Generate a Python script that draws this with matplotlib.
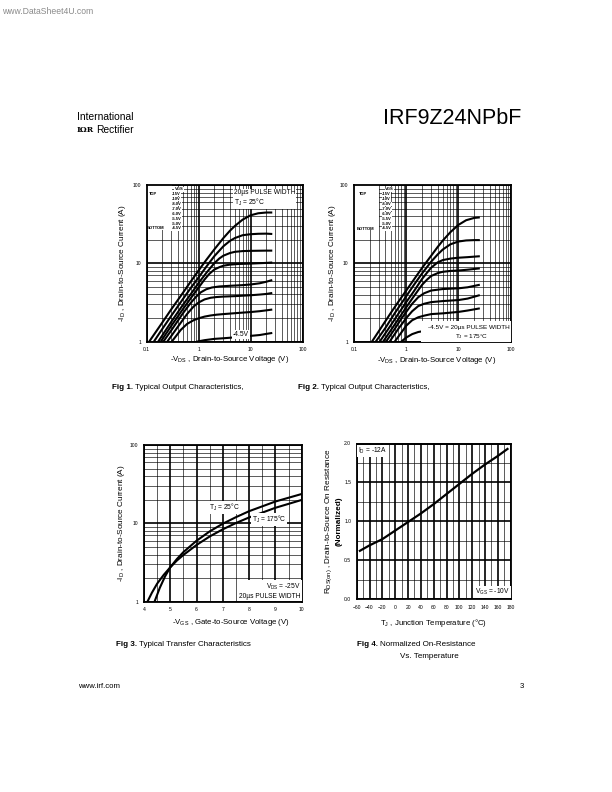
import matplotlib.pyplot as plt
from matplotlib.ticker import FixedLocator, NullFormatter, MultipleLocator
from matplotlib.patches import Rectangle

plt.rcParams['font.family'] = ['Liberation Sans', 'DejaVu Sans']
plt.rcParams['mathtext.fontset'] = 'custom'
plt.rcParams['mathtext.rm'] = 'Liberation Sans'
plt.rcParams['mathtext.default'] = 'regular'

W, H = 612.0, 792.0

# ---- data ----
vgs_labels = ['-15V', '-10V', '-8.0V', '-7.0V', '-6.0V', '-5.5V', '-5.0V', '-4.5V']

# Fig 1, Tj = 25C : -VDS (V) and -ID (A) per VGS curve
vds_25 = [
    [0.112, 0.2, 0.3, 0.5, 0.7, 1, 1.4, 2, 3, 4, 5, 7, 10, 14, 20, 25],
    [0.138, 0.2, 0.3, 0.5, 0.7, 1, 1.4, 2, 3, 4, 5, 7, 10, 14, 20, 25],
    [0.167, 0.3, 0.5, 0.7, 1, 1.4, 2, 2.5, 3, 4, 5, 7, 10, 20, 25],
    [0.187, 0.3, 0.5, 0.7, 1, 1.3, 1.6, 2, 2.5, 3, 4, 6, 10, 20, 25],
    [0.21, 0.3, 0.5, 0.7, 0.9, 1.1, 1.4, 1.8, 2.5, 4, 7, 10, 15, 20, 25],
    [0.25, 0.4, 0.6, 0.8, 1.0, 1.3, 1.7, 2.2, 3, 5, 10, 15, 20, 25],
    [0.305, 0.45, 0.6, 0.8, 1.0, 1.3, 1.7, 2.2, 3, 5, 10, 15, 20, 25],
    [0.95, 1.3, 2, 3, 5, 10, 15, 20, 25],
]
id_25 = [
    [1, 1.75, 2.6, 4.2, 5.8, 8.1, 11, 15, 21, 26, 30, 36, 41, 43.5, 44.5, 44.5],
    [1, 1.45, 2.15, 3.5, 4.8, 6.6, 9, 12.3, 16.5, 19.3, 21, 22.8, 23.5, 23.8, 23.9, 23.7],
    [1, 1.8, 2.95, 4.0, 5.6, 7.5, 10, 11.5, 12.5, 13.5, 14, 14.3, 14.4, 14.5, 14.5],
    [1, 1.6, 2.6, 3.55, 4.9, 6.2, 7.3, 8.3, 8.9, 9.3, 9.6, 9.8, 9.9, 10.1, 10.2],
    [1, 1.4, 2.3, 3.1, 3.75, 4.25, 4.65, 4.9, 5.05, 5.15, 5.25, 5.35, 5.55, 5.8, 6.05],
    [1, 1.55, 2.25, 2.8, 3.15, 3.45, 3.62, 3.7, 3.75, 3.8, 3.9, 3.98, 4.05, 4.15],
    [1, 1.4, 1.68, 1.87, 1.98, 2.08, 2.15, 2.2, 2.24, 2.3, 2.38, 2.44, 2.5, 2.55],
    [1.0, 1.04, 1.08, 1.1, 1.13, 1.18, 1.21, 1.25, 1.28],
]

# Fig 2, Tj = 175C
vds_175 = [
    [0.22, 0.35, 0.5, 0.7, 1, 1.4, 2, 3, 4, 5, 7, 10, 14, 20, 24.5],
    [0.26, 0.4, 0.6, 1, 1.4, 2, 3, 4, 5, 7, 10, 14, 20, 24.5],
    [0.31, 0.5, 0.7, 1, 1.4, 2, 2.5, 3, 4, 5, 7, 10, 15, 24.5],
    [0.36, 0.6, 0.8, 1, 1.4, 2, 2.5, 3, 4, 5, 7, 10, 15, 24.5],
    [0.41, 0.6, 0.8, 1, 1.3, 1.7, 2.2, 3, 5, 10, 15, 24.5],
    [0.48, 0.7, 1, 1.3, 1.7, 2.2, 3, 5, 10, 15, 24.5],
    [0.6, 0.8, 1, 1.3, 1.7, 2.2, 3, 5, 10, 15, 24.5],
    [0.8, 1, 1.3, 1.7, 2.2, 3, 5, 10, 24.5],
]
id_175 = [
    [1, 1.6, 2.3, 3.2, 4.5, 6.2, 8.7, 12.5, 16.2, 19.5, 25, 31, 35.5, 38, 38.5],
    [1, 1.5, 2.3, 3.8, 5.3, 7.4, 10.5, 13, 15, 17.5, 19, 19.6, 19.8, 19.8],
    [1, 1.6, 2.25, 3.2, 4.4, 6.3, 7.6, 8.8, 10.3, 11, 11.5, 11.8, 12, 12.3],
    [1, 1.65, 2.2, 2.75, 3.8, 5.3, 6.2, 6.9, 7.5, 7.8, 8.0, 8.1, 8.3, 8.6],
    [1, 1.45, 1.95, 2.4, 3.05, 3.7, 4.15, 4.5, 4.7, 4.8, 4.95, 5.3],
    [1, 1.45, 2.0, 2.45, 2.85, 3.05, 3.2, 3.3, 3.4, 3.55, 3.9],
    [1, 1.3, 1.6, 1.88, 2.05, 2.15, 2.25, 2.3, 2.4, 2.5, 2.65],
    [1, 1.13, 1.25, 1.33, 1.37, 1.4, 1.42, 1.43, 1.45],
]

# Fig 3 transfer characteristics
vgs_25c = [4.4, 4.6, 4.8, 5.0, 5.25, 5.5, 6.0, 6.5, 7.0, 7.5, 8.0, 9.0, 10.0]
id_25c = [1, 1.5, 2.1, 2.75, 3.5, 4.3, 6.0, 7.9, 9.9, 12.0, 14.3, 19.0, 23.7]
vgs_175c = [4.13, 4.3, 4.5, 4.75, 5.0, 5.25, 5.5, 6.0, 6.5, 7.0, 7.5, 8.0, 9.0, 10.0]
id_175c = [1, 1.3, 1.7, 2.2, 2.75, 3.35, 3.95, 5.3, 6.8, 8.4, 10.1, 11.9, 15.8, 19.9]

# Fig 4 normalized on-resistance
tj = [-55, -40, -20, 0, 20, 40, 60, 80, 100, 120, 140, 160, 175]
rds_norm = [0.62, 0.69, 0.77, 0.88, 0.99, 1.10, 1.22, 1.35, 1.48, 1.61, 1.73, 1.84, 1.93]


def ax_at(x0, y0, x1, y1):
    return fig.add_axes([x0 / W, 1 - y1 / H, (x1 - x0) / W, (y1 - y0) / H])


def px(x, y):
    return x / W, 1 - y / H


def style(ax):
    for s in ax.spines.values():
        s.set_linewidth(1.3)
    ax.tick_params(which='both', length=0, labelsize=3.6, pad=4)
    ax.grid(which='major', color='k', lw=1.2)
    ax.grid(which='minor', color='k', lw=0.45)
    ax.set_axisbelow(True)


def boxtext(ax, x, y, s, **kw):
    kw.setdefault('fontsize', 4.8)
    ax.text(x, y, s, transform=ax.transAxes,
            bbox=dict(facecolor='white', edgecolor='none', pad=0.6), zorder=5, **kw)


def output_axes(ax, leftpad):
    ax.set_xscale('log')
    ax.set_yscale('log')
    ax.set_xlim(0.1, 100)
    ax.set_ylim(1, 100)
    ax.xaxis.set_major_locator(FixedLocator([0.1, 1, 10, 100]))
    ax.yaxis.set_major_locator(FixedLocator([1, 10, 100]))
    ax.set_xticklabels(['0.1', '1', '10', '100'])
    ax.set_yticklabels(['1', '10', '100'])
    ax.xaxis.set_minor_formatter(NullFormatter())
    ax.yaxis.set_minor_formatter(NullFormatter())
    style(ax)
    ax.add_patch(Rectangle((0, 0.71), 0.16, 0.29, transform=ax.transAxes,
                           facecolor='white', edgecolor='none', zorder=1))
    ax.text(0.18 + leftpad, 0.985, 'VGS', transform=ax.transAxes, fontsize=3.0,
            fontweight='bold', va='top', zorder=5,
            bbox=dict(facecolor='white', edgecolor='none', pad=0.2))
    ax.text(0.012 + leftpad, 0.955, 'TOP', transform=ax.transAxes, fontsize=3.0,
            fontweight='bold', va='top', zorder=5)
    ax.text(0.0 + leftpad, 0.735, 'BOTTOM', transform=ax.transAxes, fontsize=3.0,
            fontweight='bold', va='top', zorder=5)
    for i, lab in enumerate(vgs_labels):
        ax.text(0.16 + leftpad, 0.955 - i * 0.0314, lab, transform=ax.transAxes,
                fontsize=3.0, fontweight='bold', va='top', zorder=5,
                bbox=dict(facecolor='white', edgecolor='none', pad=0.15))
    ax.set_xlabel('-V$_{DS}$ , Drain-to-Source Voltage (V)', fontsize=5.6)
    ax.xaxis.set_label_coords(0.53, -0.083)


fig = plt.figure(figsize=(6.12, 7.92), dpi=100)

# ---- Fig 1 ----
ax1 = ax_at(146.7, 185, 302.5, 341.5)
output_axes(ax1, 0.0)
for v, i in zip(vds_25, id_25):
    ax1.plot(v, i, color='k', lw=1.5, zorder=3)
boxtext(ax1, 0.56, 0.975, '20\u00b5s PULSE WIDTH\nT$_J$ = 25\u00b0C', va='top',
        linespacing=1.15)
boxtext(ax1, 0.555, 0.035, '-4.5V', fontsize=4.8)
ax1.set_ylabel('-I$_D$ , Drain-to-Source Current (A)', fontsize=5.9)
ax1.yaxis.set_label_coords(-0.12, 0.5)

# ---- Fig 2 ----
ax2 = ax_at(354, 185, 510.7, 341.7)
output_axes(ax2, 0.02)
for v, i in zip(vds_175, id_175):
    ax2.plot(v, i, color='k', lw=1.5, zorder=3)
ax2.add_patch(Rectangle((0.43, 0.0), 0.57, 0.135, transform=ax2.transAxes,
                        facecolor='white', edgecolor='none', zorder=4))
ax2.text(0.995, 0.088, '-4.5V = 20\u00b5s PULSE WIDTH', transform=ax2.transAxes,
         fontsize=4.6, ha='right', va='center', zorder=5)
ax2.text(0.75, 0.03, 'T$_J$ = 175\u00b0C', transform=ax2.transAxes,
         fontsize=4.6, ha='center', va='center', zorder=5)
ax2.set_ylabel('-I$_D$ , Drain-to-Source Current (A)', fontsize=5.9)
ax2.yaxis.set_label_coords(-0.102, 0.5)

# ---- Fig 3 ----
ax3 = ax_at(144, 445, 301.7, 601.7)
ax3.set_yscale('log')
ax3.set_xlim(4, 10)
ax3.set_ylim(1, 100)
ax3.xaxis.set_major_locator(MultipleLocator(1))
ax3.xaxis.set_minor_locator(MultipleLocator(0.5))
ax3.yaxis.set_major_locator(FixedLocator([1, 10, 100]))
ax3.set_yticklabels(['1', '10', '100'])
ax3.yaxis.set_minor_formatter(NullFormatter())
style(ax3)
ax3.plot(vgs_25c, id_25c, color='k', lw=1.5, zorder=3)
ax3.plot(vgs_175c, id_175c, color='k', lw=1.5, zorder=3)
boxtext(ax3, 0.415, 0.585, 'T$_J$ = 25\u00b0C', fontsize=4.8)
boxtext(ax3, 0.685, 0.51, 'T$_J$ = 175\u00b0C', fontsize=4.8)
boxtext(ax3, 0.995, 0.01, 'V$_{DS}$ = -25V \n20\u00b5s PULSE WIDTH', ha='right',
        va='bottom', linespacing=1.15)
ax3.set_xlabel('-V$_{GS}$ , Gate-to-Source Voltage (V)', fontsize=5.6)
ax3.xaxis.set_label_coords(0.55, -0.1)
ax3.set_ylabel('-I$_D$ , Drain-to-Source Current (A)', fontsize=5.9)
ax3.yaxis.set_label_coords(-0.108, 0.5)

# ---- Fig 4 ----
ax4 = ax_at(356.7, 443.5, 510.7, 599)
ax4.set_xlim(-60, 180)
ax4.set_ylim(0, 2.0)
ax4.xaxis.set_major_locator(MultipleLocator(20))
ax4.xaxis.set_minor_locator(MultipleLocator(10))
ax4.yaxis.set_minor_locator(MultipleLocator(0.25))
ax4.set_yticks([0, 0.5, 1.0, 1.5, 2.0])
ax4.set_yticklabels(['0.0', '0.5', '1.0', '1.5', '2.0'])
style(ax4)
ax4.plot(tj, rds_norm, color='k', lw=1.6, zorder=3)
boxtext(ax4, 0.01, 0.985, 'I$_D$ = -12A', va='top')
boxtext(ax4, 0.995, 0.01, 'V$_{GS}$ = -10V', ha='right', va='bottom')
ax4.set_xlabel('T$_J$ , Junction Temperature (\u00b0C)', fontsize=5.6)
ax4.xaxis.set_label_coords(0.5, -0.113)
ax4.set_ylabel('R$_{DS(on)}$ , Drain-to-Source On Resistance', fontsize=5.9)
ax4.yaxis.set_label_coords(-0.147, 0.5)
ax4.text(-0.117, 0.5, '(Normalized)', transform=ax4.transAxes, rotation=90,
         fontsize=5.9, fontweight='bold', ha='center', va='center')

# ---- page text ----
fig.text(*px(2, 12), 'www.DataSheet4U.com', fontsize=6.2, color='#8a8a8a', va='center')
fig.text(*px(77, 117), 'International', fontsize=7.4, va='center', fontweight='light')
fig.text(*px(77, 130), 'I\u03a9R', fontsize=5.6, va='center', fontweight='bold',
         family='DejaVu Serif')
fig.text(*px(96, 130), 'Rectifier', fontsize=7.4, va='center')
fig.text(*px(383, 119), 'IRF9Z24NPbF', fontsize=15.5, va='center')

fig.text(*px(112, 388), 'Fig 1.', fontsize=5.8, fontweight='bold', va='center')
fig.text(*px(135, 388), 'Typical Output Characteristics,', fontsize=5.8, va='center')
fig.text(*px(298, 388), 'Fig 2.', fontsize=5.8, fontweight='bold', va='center')
fig.text(*px(321, 388), 'Typical Output Characteristics,', fontsize=5.8, va='center')
fig.text(*px(116, 645), 'Fig 3.', fontsize=5.8, fontweight='bold', va='center')
fig.text(*px(139, 645), 'Typical Transfer Characteristics', fontsize=5.8, va='center')
fig.text(*px(357, 645), 'Fig 4.', fontsize=5.8, fontweight='bold', va='center')
fig.text(*px(380, 645), 'Normalized On-Resistance', fontsize=5.8, va='center')
fig.text(*px(400, 657), 'Vs. Temperature', fontsize=5.8, va='center')

fig.text(*px(78, 687), 'www.irf.com', fontsize=5.6, va='center')
fig.text(*px(520, 687), '3', fontsize=5.6, va='center')

fig.savefig('out.png', dpi=100, facecolor='white')
